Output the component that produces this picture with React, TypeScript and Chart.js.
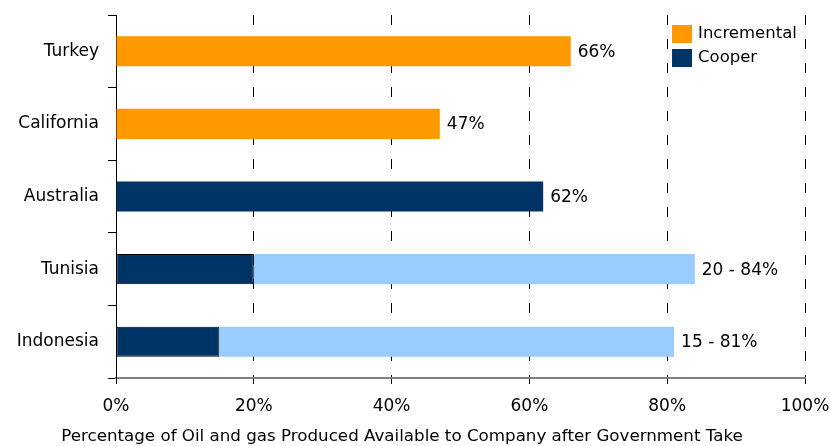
import React, { useEffect, useRef } from "react";
import { Chart, registerables } from "chart.js";

Chart.register(...registerables);

const categories = ["Turkey", "California", "Australia", "Tunisia", "Indonesia"];
const incremental = [66, 47, 0, 0, 0];
const cooper = [0, 0, 62, 20, 15];
const rangeExtra = [0, 0, 0, 64, 66];
const valueLabels = ["66%", "47%", "62%", "20 - 84%", "15 - 81%"];
const xTicks = [0, 20, 40, 60, 80, 100];
const legendItems = [
  { label: "Incremental", color: "#FF9900" },
  { label: "Cooper", color: "#003366" },
];
const axisTitle = "Percentage of Oil and gas Produced Available to Company after Government Take";

const FONT = "'DejaVu Sans', sans-serif";

export default function App() {
  const ref = useRef<HTMLCanvasElement | null>(null);

  useEffect(() => {
    document.body.style.margin = "0";
    const canvas = ref.current;
    if (!canvas) return;

    const labelPlugin = {
      id: "labels",
      afterDatasetsDraw(chart: any) {
        const ctx = chart.ctx;
        const xs = chart.scales.x;
        const ys = chart.scales.y;
        ctx.save();
        ctx.font = `17px ${FONT}`;
        ctx.fillStyle = "#000";
        ctx.textBaseline = "middle";
        ctx.textAlign = "left";
        categories.forEach((_, i) => {
          const total = incremental[i] + cooper[i] + rangeExtra[i];
          const x = xs.getPixelForValue(total) + 7;
          const y = ys.getPixelForValue(i);
          ctx.fillText(valueLabels[i], x, y + 1);
        });
        // legend
        const left = xs.getPixelForValue(80.7);
        const top = chart.chartArea.top;
        ctx.font = `16.5px ${FONT}`;
        legendItems.forEach((it, k) => {
          const by = top + 10 + k * 24;
          ctx.fillStyle = it.color;
          ctx.fillRect(left, by, 20, 18);
          ctx.fillStyle = "#000";
          ctx.fillText(it.label, left + 26, by + 9);
        });
        // axis title
        ctx.font = `16.7px ${FONT}`;
        ctx.textAlign = "center";
        ctx.fillText(axisTitle, 402, 437);
        ctx.restore();
      },
    };

    const chart = new Chart(canvas, {
      type: "bar",
      data: {
        labels: categories,
        datasets: [
          {
            label: "Incremental",
            data: incremental,
            backgroundColor: "#FF9900",
            barPercentage: 0.415,
            categoryPercentage: 1,
          },
          {
            label: "Cooper",
            data: cooper,
            backgroundColor: "#003366",
            borderColor: "#000000",
            borderWidth: [0, 0, 0, 1, 1],
            borderSkipped: false,
            barPercentage: 0.415,
            categoryPercentage: 1,
          },
          {
            label: "Range",
            data: rangeExtra,
            backgroundColor: "#99CCFF",
            barPercentage: 0.415,
            categoryPercentage: 1,
          },
        ],
      },
      options: {
        indexAxis: "y",
        animation: false,
        responsive: false,
        maintainAspectRatio: false,
        layout: { padding: { top: 15, right: 25, left: 0, bottom: 0 } },
        plugins: {
          legend: { display: false },
          tooltip: { enabled: false },
        },
        scales: {
          x: {
            stacked: true,
            min: 0,
            max: 100,
            afterFit(scale: any) {
              scale.height = 68;
              scale.paddingRight = 0;
              scale.paddingLeft = 0;
            },
            afterBuildTicks(scale: any) {
              scale.ticks = xTicks.map((v) => ({ value: v }));
            },
            ticks: {
              callback: (v: any) => `${v}%`,
              color: "#000",
              font: { family: FONT, size: 17 },
              padding: 12,
              maxRotation: 0,
            },
            grid: {
              color: "#000",
              lineWidth: 1,
              drawTicks: true,
              tickLength: 6,
              tickColor: "#000",
              tickBorderDash: [],
            },
            border: {
              display: true,
              color: "#808080",
              width: 2,
              dash: [10, 14],
            },
            title: { display: false },
          },
          y: {
            stacked: true,
            afterFit(scale: any) {
              scale.width = 116;
              scale.paddingTop = 0;
              scale.paddingBottom = 0;
            },
            ticks: {
              color: "#000",
              font: { family: FONT, size: 17 },
              padding: 9,
            },
            grid: {
              offset: true,
              drawOnChartArea: false,
              drawTicks: true,
              tickLength: 8,
              tickColor: "#000",
            },
            border: { display: true, color: "#000", width: 1 },
          },
        },
      },
      plugins: [labelPlugin],
    } as any);

    return () => chart.destroy();
  }, []);

  return (
    <div style={{ position: "absolute", left: 0, top: 0, width: 830, height: 446 }}>
      <canvas ref={ref} width={830} height={446} style={{ display: "block" }} />
    </div>
  );
}
